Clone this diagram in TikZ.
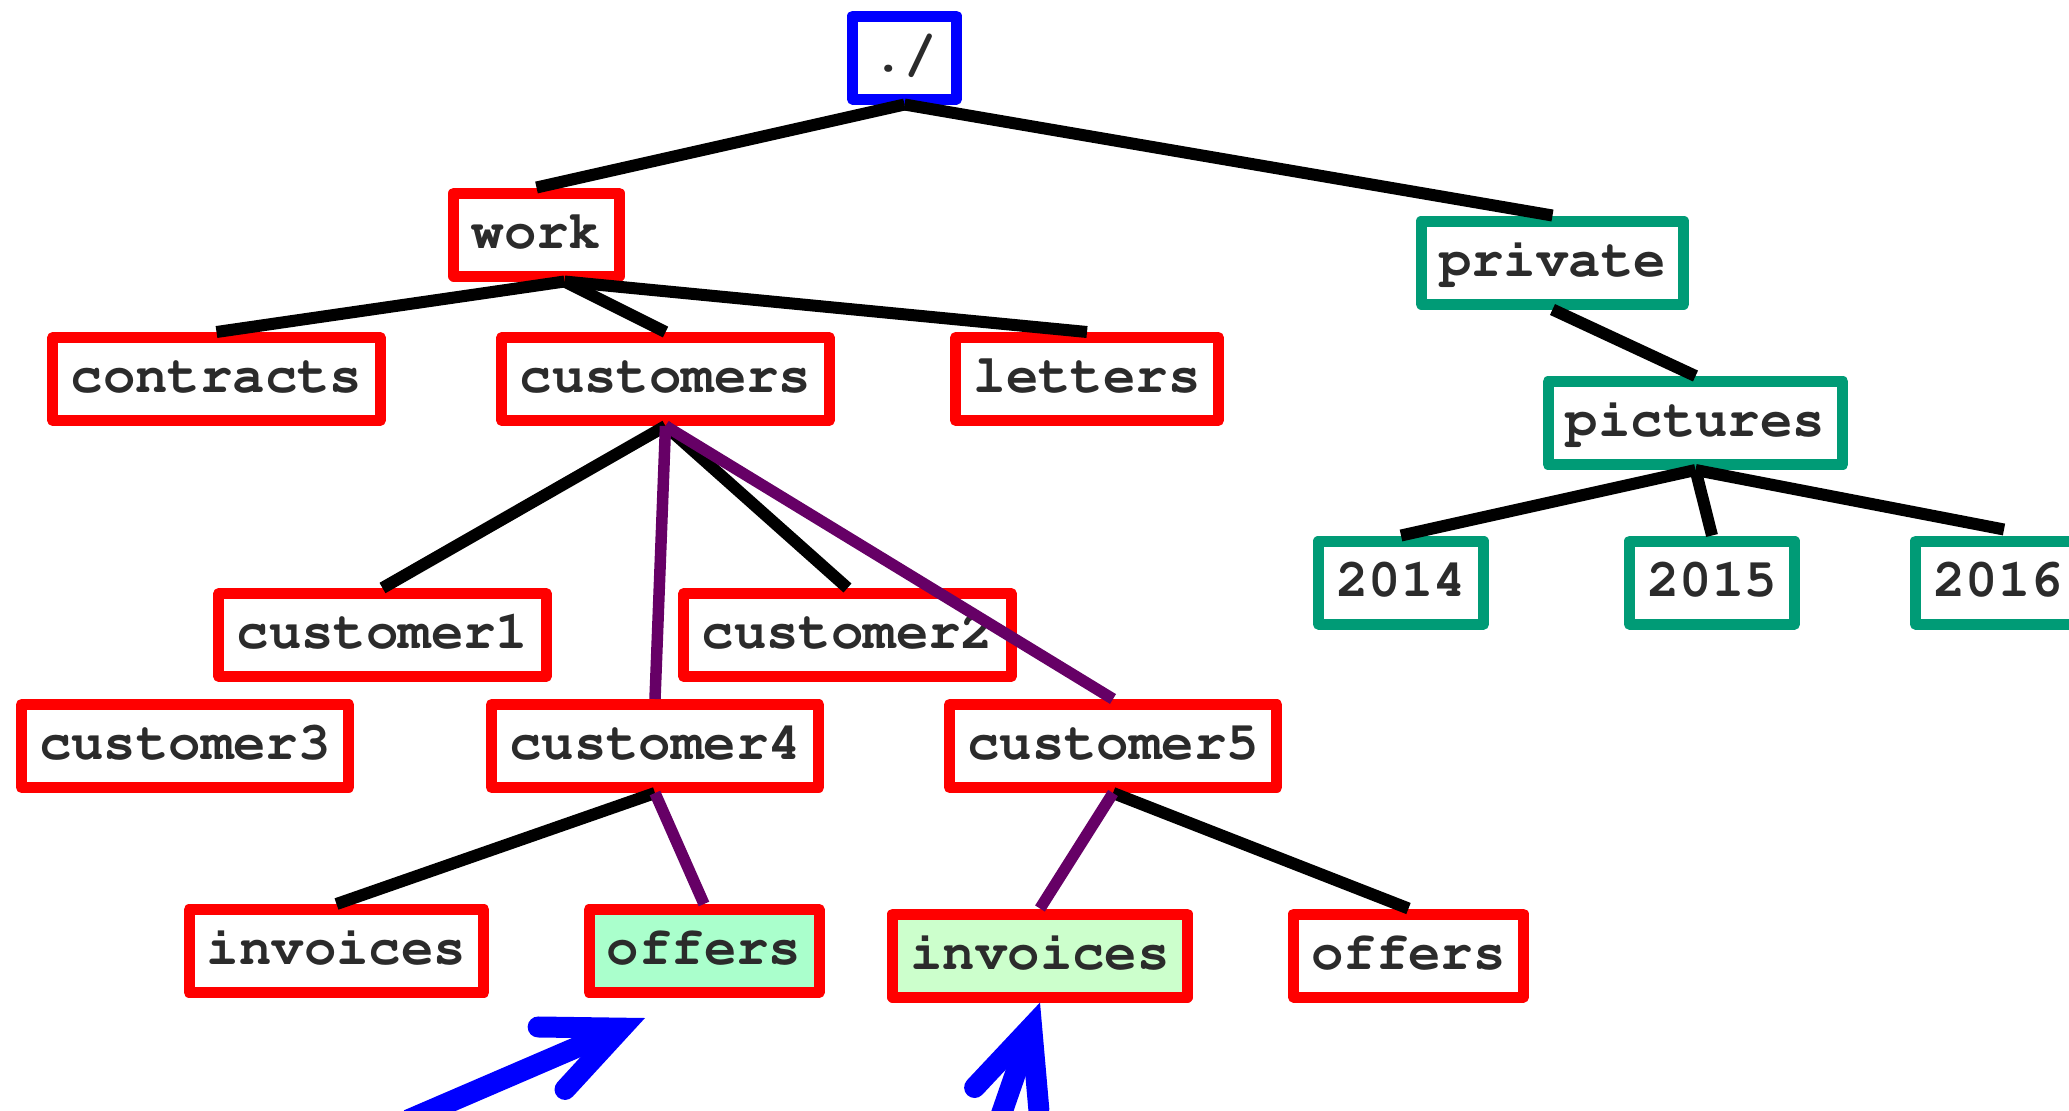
\documentclass[tikz,border=0pt]{standalone}
\usepackage[T1]{fontenc}
\usetikzlibrary{arrows.meta,calc}

\definecolor{boxred}{RGB}{255,0,0}
\definecolor{boxgreen}{RGB}{0,155,118}
\definecolor{rootblue}{RGB}{0,0,255}
\definecolor{linkpurple}{RGB}{102,0,102}
\definecolor{fillmint}{RGB}{170,255,204}
\definecolor{fillpale}{RGB}{204,255,204}
\definecolor{inkgray}{RGB}{43,43,43}

\tikzset{
  dirbox/.style={draw=boxred, line width=5.5pt, line join=round, fill=white,
    font=\fontfamily{pcr}\fontseries{b}\fontsize{27}{27}\selectfont, text=inkgray,
    inner xsep=8.9pt, inner ysep=0pt, minimum height=41.5pt,
    text height=17.2pt, text depth=3.6pt},
  privbox/.style={dirbox, draw=boxgreen},
  rootbox/.style={dirbox, draw=rootblue, inner xsep=9.8pt},
  hitA/.style={dirbox, fill=fillmint},
  hitB/.style={dirbox, fill=fillpale},
  link/.style={line width=6pt},
  pathlink/.style={line width=5.75pt, draw=linkpurple},
  pointer/.style={line width=10.5pt, draw=rootblue,
    -{Straight Barb[length=38pt, width=34pt, line cap=round, line join=miter]}}
}

\begin{document}
\begin{tikzpicture}[x=0.5pt, y=-0.5pt]
  \useasboundingbox (0,0) rectangle (2069,1110);
  \clip (0,0) rectangle (2069,1110);

  % directory nodes
  \node[rootbox] (root) at (904.5,57.5) {./};
  \node[dirbox] (work) at (536.5,234.5) {work};
  \node[privbox] (private) at (1552.5,262.5) {private};
  \node[dirbox] (contracts) at (216.5,379) {contracts};
  \node[dirbox] (customers) at (665.5,379) {customers};
  \node[dirbox] (letters) at (1087,379) {letters};
  \node[privbox] (pictures) at (1695.5,423) {pictures};
  \node[privbox] (y2014) at (1401,582.5) {2014};
  \node[privbox] (y2015) at (1712,582.5) {2015};
  \node[privbox] (y2016) at (1998,582.5) {2016};
  \node[dirbox] (cust1) at (382.5,635) {customer1};
  \node[dirbox] (cust2) at (847.5,635) {customer2};
  \node[dirbox] (cust3) at (185,746) {customer3};
  \node[dirbox] (cust4) at (655,746) {customer4};
  \node[dirbox] (cust5) at (1113,746) {customer5};
  \node[dirbox] (inv4) at (336.5,951) {invoices};
  \node[hitA] (off4) at (704,951) {offers};
  \node[hitB] (inv5) at (1040,955.5) {invoices};
  \node[dirbox] (off5) at (1408.5,955.5) {offers};

  % tree edges
  \draw[link] (root.south) -- (work.north);
  \draw[link] (root.south) -- (private.north);
  \draw[link] ([xshift=14pt]work.south) -- (contracts.north);
  \draw[link] ([xshift=14pt]work.south) -- (customers.north);
  \draw[link] ([xshift=14pt]work.south) -- (letters.north);
  \draw[link] (customers.south) -- (cust1.north);
  \draw[link] (customers.south) -- (cust2.north);
  \draw[link] (cust4.south) -- (inv4.north);
  \draw[link] (cust5.south) -- (off5.north);
  \draw[link] (private.south) -- (pictures.north);
  \draw[link] (pictures.south) -- (y2014.north);
  \draw[link] (pictures.south) -- (y2015.north);
  \draw[link] (pictures.south) -- ([xshift=3pt,yshift=3pt]y2016.north);

  % highlighted paths
  \draw[pathlink] (customers.south) -- (cust4.north);
  \draw[pathlink] (customers.south) -- (cust5.north);
  \draw[pathlink] (cust4.south) -- (off4.north);
  \draw[pathlink] (cust5.south) -- (inv5.north);

  % pointers to the selected folders
  \coordinate (tailA) at (408,1120);
  \coordinate (tipA) at ($(off4.south)+(-59,20)$);
  \coordinate (tailB) at (999,1121);
  \draw[pointer] (tailA) -- (tipA);
  \draw[pointer] (tailB) -- (inv5.south);
\end{tikzpicture}
\end{document}
